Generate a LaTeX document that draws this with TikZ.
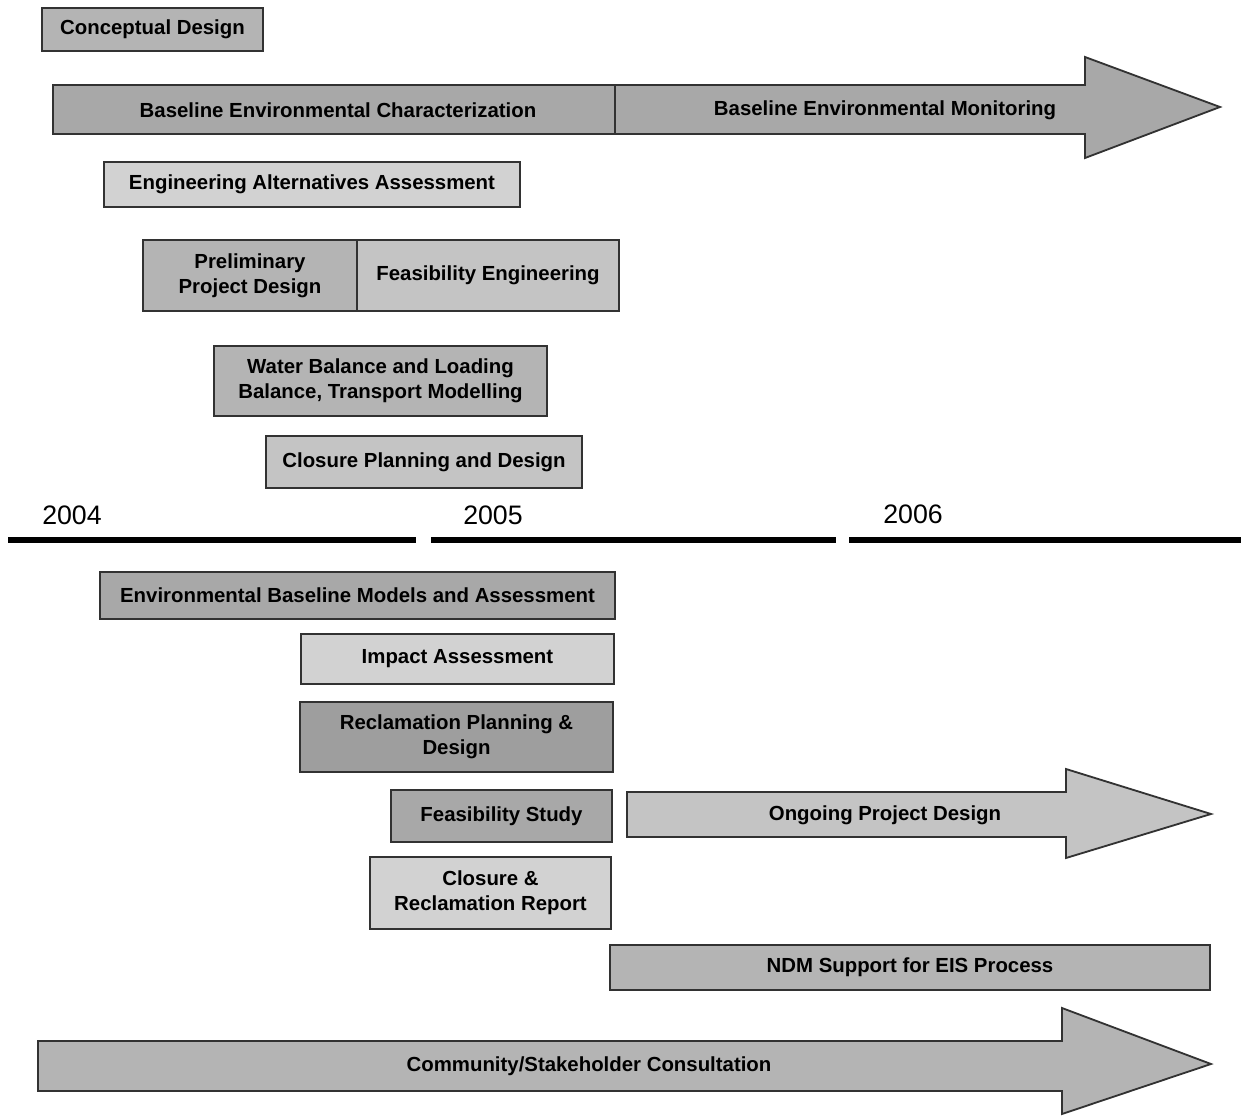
\documentclass[tikz,border=0pt]{standalone}
\usepackage{fontspec}
\setmainfont{Liberation Sans}
\usetikzlibrary{positioning}
\definecolor{edge}{RGB}{50,50,50}
\definecolor{greyA}{RGB}{168,168,168}
\definecolor{greyB}{RGB}{180,180,180}
\definecolor{greyC}{RGB}{196,196,196}
\definecolor{greyD}{RGB}{210,210,210}
\definecolor{greyE}{RGB}{158,158,158}

% one phase bar: name, x1, y1, x2, y2, fill, text
\newcommand{\phasebox}[7]{%
  \draw[phase, fill=#6] (#2,#3) rectangle (#4,#5);
  \node[phasetext] (#1) at ({(#2+#4)/2},{(#3+#5)/2}) {#7};}

\tikzset{
  phase/.style={draw=edge, line width=1.3pt},
  phasetext/.style={align=center, font=\fontsize{14.5}{18}\selectfont\bfseries, text=black},
  yeartext/.style={font=\fontsize{19}{22}\selectfont},
  timeline/.style={line width=4.3pt, line cap=butt}
}

\begin{document}
\begin{tikzpicture}[x=0.025cm, y=-0.025cm]
        \useasboundingbox (0,0) rectangle (1241,1117);

        \phasebox{concept}{42}{8}{263}{51}{greyB}{Conceptual Design}

        % baseline arrow
        \draw[phase, fill=greyA] (53,85) -- (1085,85) -- (1085,57) -- (1220,107) -- (1085,158) -- (1085,134) -- (53,134) -- cycle;
        \draw[phase] (615,85) -- (615,134);
        \node[phasetext] (charact) at (338,110) {Baseline Environmental Characterization};
        \node[phasetext] (monitor) at (885,110) {Baseline Environmental Monitoring};

        \phasebox{engalt}{104}{162}{520}{207}{greyD}{Engineering Alternatives Assessment}
        \phasebox{prelim}{143}{240}{357}{311}{greyB}{Preliminary\\Project Design}
        \phasebox{feaseng}{357}{240}{619}{311}{greyC}{Feasibility Engineering}
        \phasebox{water}{214}{346}{547}{416}{greyB}{Water Balance and Loading\\Balance, Transport Modelling}
        \phasebox{closplan}{266}{436}{582}{488}{greyC}{Closure Planning and Design}

        % years
        \node[yeartext] (y2004) at (72,515) {2004};
        \node[yeartext] (y2005) at (493,515) {2005};
        \node[yeartext] (y2006) at (913,514) {2006};
        \draw[timeline] (8,540) -- (416,540);
        \draw[timeline] (431,540) -- (836,540);
        \draw[timeline] (849,540) -- (1241,540);

        \phasebox{envbase}{100}{572}{615}{619}{greyA}{Environmental Baseline Models and Assessment}
        \phasebox{impact}{301}{634}{614}{684}{greyD}{Impact Assessment}
        \phasebox{reclam}{300}{702}{613}{772}{greyE}{Reclamation Planning \&\\Design}
        \phasebox{feasstudy}{391}{790}{612}{842}{greyA}{Feasibility Study}

        % ongoing design arrow
        \draw[phase, fill=greyC] (627,792) -- (1066,792) -- (1066,769) -- (1211,814) -- (1066,858) -- (1066,837) -- (627,837) -- cycle;
        \node[phasetext] (ongoing) at (885,815) {Ongoing Project Design};

        \phasebox{closrep}{370}{857}{611}{929}{greyD}{Closure \&\\Reclamation Report}
        \phasebox{ndm}{610}{945}{1210}{990}{greyB}{NDM Support for EIS Process}

        % consultation arrow
        \draw[phase, fill=greyB] (38,1041) -- (1062,1041) -- (1062,1008) -- (1211,1064) -- (1062,1114) -- (1062,1091) -- (38,1091) -- cycle;
        \node[phasetext] (consult) at (589,1066) {Community/Stakeholder Consultation};

\end{tikzpicture}
\end{document}
